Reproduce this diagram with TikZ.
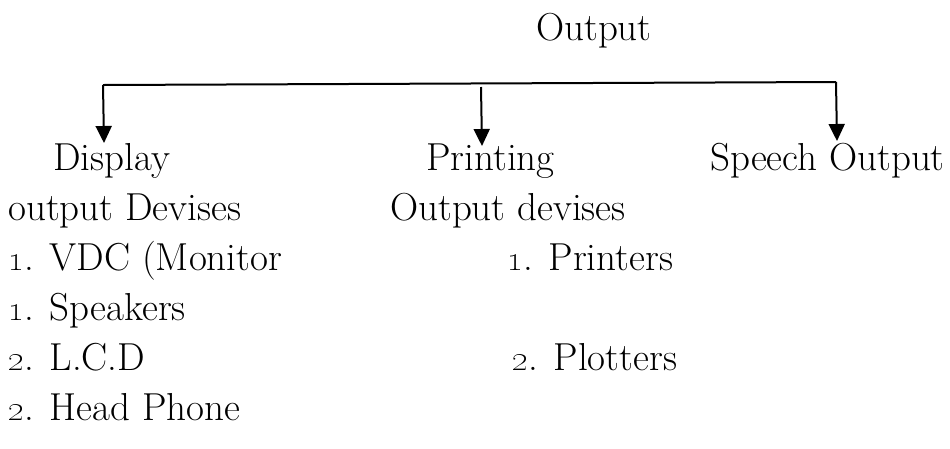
\documentclass[tikz,border=0pt]{standalone}
\usetikzlibrary{arrows.meta}
\begin{document}
\begin{tikzpicture}[x=1pt,y=-1pt,
  lbl/.style={anchor=base west,inner sep=0pt,font=\fontsize{39}{44}\selectfont},
  arr/.style={line width=2pt,-{Triangle[length=17pt,width=16pt]}},
  bar/.style={line width=2pt}]
\useasboundingbox (0,0) rectangle (950,448);
\node[lbl] (out) at (536,40) {Output};
\node[lbl] (disp) at (53,170) {Display};
\node[lbl] (prin) at (426,170) {Printing};
\node[lbl] (spee) at (710,170) {Speech Output};
\node[lbl] (odev) at (8,220) {output Devises};
\node[lbl] (pdev) at (390,220) {Output devises};
\node[lbl] (vdc) at (8,270) {\oldstylenums{1}. VDC (Monitor};
\node[lbl] (pri) at (507,270) {\oldstylenums{1}. Printers};
\node[lbl] (spk) at (8,320) {\oldstylenums{1}. Speakers};
\node[lbl] (lcd) at (8,370) {\oldstylenums{2}. L.C.D};
\node[lbl] (plo) at (512,370) {\oldstylenums{2}. Plotters};
\node[lbl] (hph) at (8,420) {\oldstylenums{2}. Head Phone};
\coordinate (L) at (103,85);
\coordinate (R) at (836,82);
\coordinate (M) at (481,87);
\coordinate (Le) at (104,143);
\coordinate (Me) at (482,146);
\coordinate (Re) at (837,141);
\draw[bar] (L) -- (R);
\draw[arr] (L) -- (Le);
\draw[arr] (M) -- (Me);
\draw[arr] (R) -- (Re);
\end{tikzpicture}
\end{document}
